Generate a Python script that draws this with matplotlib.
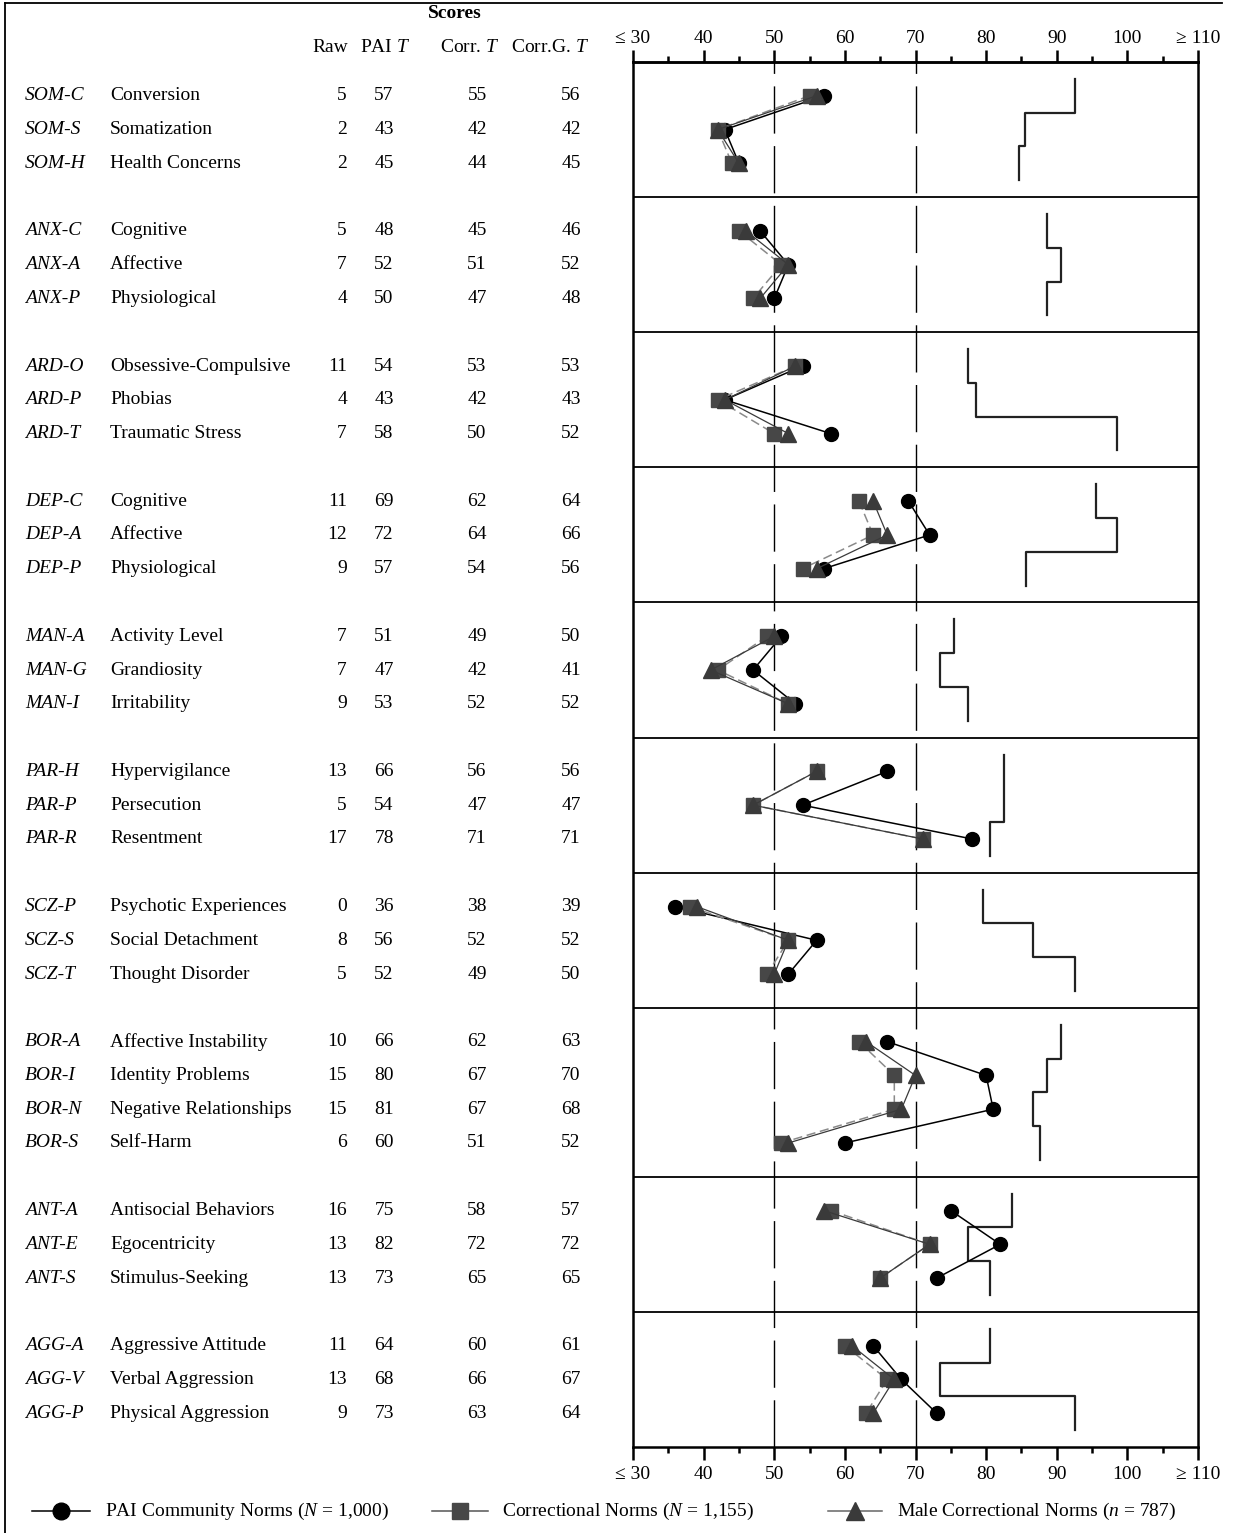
import matplotlib
matplotlib.use("Agg")
import matplotlib.pyplot as plt
from matplotlib import transforms
from matplotlib.lines import Line2D

plt.rcParams['font.family'] = ['Liberation Serif', 'DejaVu Serif']
plt.rcParams['mathtext.fontset'] = 'custom'
plt.rcParams['mathtext.rm'] = 'Liberation Serif'
plt.rcParams['mathtext.it'] = 'Liberation Serif:italic'

# scale groups and their number of subscales
group_sizes = [3, 3, 3, 3, 3, 3, 3, 4, 3, 3]

codes = ["SOM-C", "SOM-S", "SOM-H", "ANX-C", "ANX-A", "ANX-P",
         "ARD-O", "ARD-P", "ARD-T", "DEP-C", "DEP-A", "DEP-P",
         "MAN-A", "MAN-G", "MAN-I", "PAR-H", "PAR-P", "PAR-R",
         "SCZ-P", "SCZ-S", "SCZ-T", "BOR-A", "BOR-I", "BOR-N", "BOR-S",
         "ANT-A", "ANT-E", "ANT-S", "AGG-A", "AGG-V", "AGG-P"]
names = ["Conversion", "Somatization", "Health Concerns",
         "Cognitive", "Affective", "Physiological",
         "Obsessive-Compulsive", "Phobias", "Traumatic Stress",
         "Cognitive", "Affective", "Physiological",
         "Activity Level", "Grandiosity", "Irritability",
         "Hypervigilance", "Persecution", "Resentment",
         "Psychotic Experiences", "Social Detachment", "Thought Disorder",
         "Affective Instability", "Identity Problems", "Negative Relationships", "Self-Harm",
         "Antisocial Behaviors", "Egocentricity", "Stimulus-Seeking",
         "Aggressive Attitude", "Verbal Aggression", "Physical Aggression"]
raw = [5, 2, 2, 5, 7, 4, 11, 4, 7, 11, 12, 9, 7, 7, 9, 13, 5, 17,
       0, 8, 5, 10, 15, 15, 6, 16, 13, 13, 11, 13, 9]
pai_t = [57, 43, 45, 48, 52, 50, 54, 43, 58, 69, 72, 57, 51, 47, 53, 66, 54, 78,
         36, 56, 52, 66, 80, 81, 60, 75, 82, 73, 64, 68, 73]
corr_t = [55, 42, 44, 45, 51, 47, 53, 42, 50, 62, 64, 54, 49, 42, 52, 56, 47, 71,
          38, 52, 49, 62, 67, 67, 51, 58, 72, 65, 60, 66, 63]
corrg_t = [56, 42, 45, 46, 52, 48, 53, 43, 52, 64, 66, 56, 50, 41, 52, 56, 47, 71,
           39, 52, 50, 63, 70, 68, 52, 57, 72, 65, 61, 67, 64]
# skyline (step line on the right)
skyline = [92.6, 85.5, 84.6, 88.6, 90.6, 88.6, 77.5, 78.6, 98.6,
           95.6, 98.6, 85.6, 75.5, 73.5, 77.5, 82.6, 82.6, 80.6,
           79.5, 86.6, 92.6, 90.6, 88.6, 86.6, 87.6, 83.6, 77.5, 80.6,
           80.6, 73.5, 92.6]

tick_vals = [30, 40, 50, 60, 70, 80, 90, 100, 110]
tick_labels = ["\u2264 30", "40", "50", "60", "70", "80", "90", "100", "\u2265 110"]
minor_vals = [35, 45, 55, 65, 75, 85, 95, 105]

W, H = 1233, 1533
fig = plt.figure(figsize=(W / 100, H / 100), dpi=100)
ax = fig.add_axes([633 / W, 1 - 1447 / H, 565 / W, 1385 / H])

# row positions (one empty unit after each group)
row_y = []
bounds = []
offset = 0
for n in group_sizes:
    row_y.extend(offset + i + 1 for i in range(n))
    offset += n + 1
    bounds.append(offset)
total = offset

ax.set_xlim(30, 110)
ax.set_ylim(total, 0)

ax.axvline(50, color='black', lw=1.0, linestyle=(0, (34, 9)), zorder=1)
ax.axvline(70, color='black', lw=1.0, linestyle=(0, (34, 9)), zorder=1)
for b in bounds[:-1]:
    ax.axhline(b, color='black', lw=1.3, zorder=1)

start = 0
for n in group_sizes:
    sl = slice(start, start + n)
    ys = row_y[sl]
    # skyline steps
    sx, sy = [], []
    for v, y in zip(skyline[sl], ys):
        sx += [v, v]
        sy += [y - 0.5, y + 0.5]
    ax.plot(sx, sy, color='#222222', lw=1.6, zorder=2)
    ax.plot(pai_t[sl], ys, color='black', lw=1.1, marker='o', ms=10,
            mfc='black', mec='black', zorder=3)
    ax.plot(corr_t[sl], ys, color='#8a8a8a', lw=1.1, linestyle=(0, (6, 3)),
            marker='s', ms=10, mfc='#474747', mec='#474747', zorder=4)
    ax.plot(corrg_t[sl], ys, color='#3a3a3a', lw=0.9, marker='^', ms=11,
            mfc='#3a3a3a', mec='#3a3a3a', zorder=5)
    start += n

ax.set_xticks(tick_vals)
ax.set_xticklabels(tick_labels)
ax.set_xticks(minor_vals, minor=True)
ax.set_yticks([])
ax.tick_params(axis='x', which='both', top=False, bottom=True, labeltop=False,
               labelbottom=True, direction='out', labelsize=14, width=1.8)
ax.tick_params(axis='x', which='major', length=9, pad=5)
ax.tick_params(axis='x', which='minor', length=4.5)
for s in ax.spines.values():
    s.set_linewidth(1.8)

# top axis with its own label padding
top = ax.secondary_xaxis('top')
top.set_xticks(tick_vals)
top.set_xticklabels(tick_labels)
top.set_xticks(minor_vals, minor=True)
top.tick_params(axis='x', which='both', direction='out', labelsize=14, width=1.8)
top.tick_params(axis='x', which='major', length=9, pad=2)
top.tick_params(axis='x', which='minor', length=4.5)
top.spines['top'].set_linewidth(1.8)

# left-hand table
trans = transforms.blended_transform_factory(fig.transFigure, ax.transData)
fs = 14
for i, y in enumerate(row_y):
    fig.text(25 / W, y, codes[i], transform=trans, fontsize=fs, style='italic', va='center')
    fig.text(110 / W, y, names[i], transform=trans, fontsize=fs, va='center')
    fig.text(347 / W, y, str(raw[i]), transform=trans, fontsize=fs, va='center', ha='right')
    fig.text(384 / W, y, str(pai_t[i]), transform=trans, fontsize=fs, va='center', ha='center')
    fig.text(477 / W, y, str(corr_t[i]), transform=trans, fontsize=fs, va='center', ha='center')
    fig.text(571 / W, y, str(corrg_t[i]), transform=trans, fontsize=fs, va='center', ha='center')

fig.text(455 / W, 1 - 14 / H, "Scores", fontsize=fs, weight='bold', ha='center', va='center')
fig.text(330 / W, 1 - 47 / H, "Raw", fontsize=fs, ha='center', va='center')
fig.text(385 / W, 1 - 47 / H, "PAI $T$", fontsize=fs, ha='center', va='center')
fig.text(470 / W, 1 - 47 / H, "Corr. $T$", fontsize=fs, ha='center', va='center')
fig.text(550 / W, 1 - 47 / H, "Corr.G. $T$", fontsize=fs, ha='center', va='center')

# outer frame (top and left edges)
fig.add_artist(Line2D([5 / W, 1222 / W], [1 - 2.5 / H, 1 - 2.5 / H], color='black', lw=1.3,
                      transform=fig.transFigure))
fig.add_artist(Line2D([5 / W, 5 / W], [0, 1 - 2.5 / H], color='black', lw=1.3,
                      transform=fig.transFigure))

# legend
ly = 1 - 1511 / H
leg_items = [
    (32, 90, 'o', 'black', 'black', 10, "PAI Community Norms ($N$ = 1,000)", 105),
    (432, 488, 's', '#474747', '#555555', 10, "Correctional Norms ($N$ = 1,155)", 502),
    (828, 882, '^', '#3a3a3a', '#666666', 11, "Male Correctional Norms ($n$ = 787)", 897),
]
for x0, x1, mk, mc, lc, ms, label, tx in leg_items:
    fig.add_artist(Line2D([x0 / W, x1 / W], [ly, ly], color=lc, lw=1.1,
                          transform=fig.transFigure))
    fig.add_artist(Line2D([(x0 + x1) / 2 / W], [ly], marker=mk, ms=ms + 2, mfc=mc, mec=mc,
                          linestyle='none', transform=fig.transFigure))
    fig.text(tx / W, ly, label, fontsize=fs, va='center')

fig.savefig("out.png", dpi=100)
